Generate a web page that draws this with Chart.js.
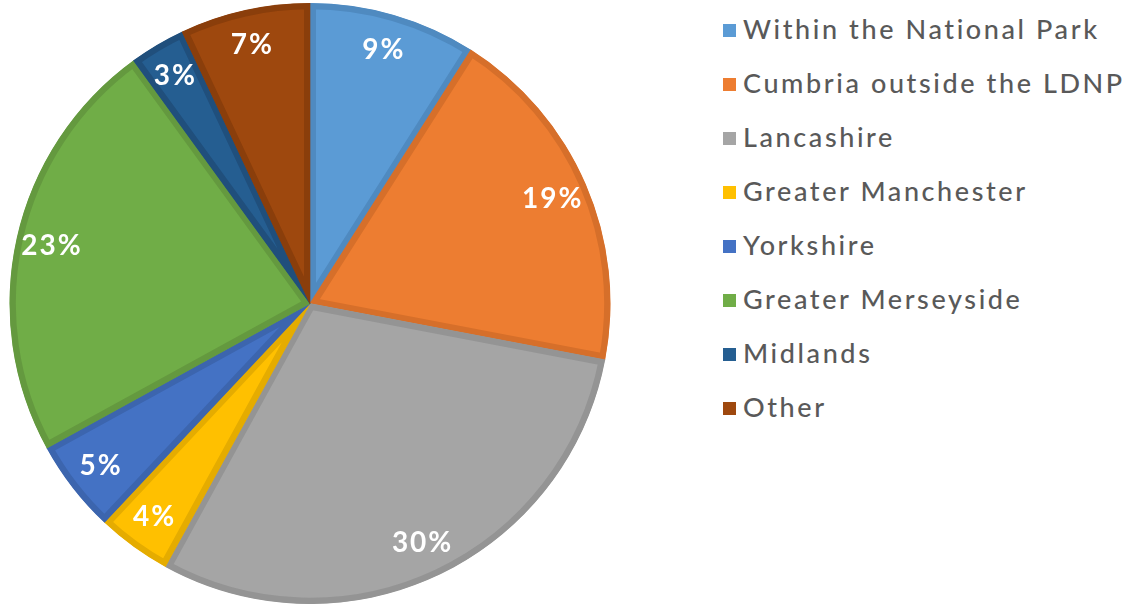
<!DOCTYPE html>
<html>
<head>
<meta charset="utf-8">
<script src="https://cdn.jsdelivr.net/npm/chart.js@4/dist/chart.umd.min.js"></script>
<style>
  body { margin: 0; background: #fff; width: 1137px; height: 607px; overflow: hidden; position: relative; font-family: Lato, sans-serif; }
  #wrap { position: absolute; left: 0; top: 0; width: 620px; height: 607px; }
  #legend { position: absolute; left: 723px; top: 1px; }
  .item { height: 54px; display: flex; align-items: center; color: #595959; font-size: 27px; font-weight: 500; letter-spacing: 2.6px; white-space: nowrap; }
  .box { width: 13px; height: 13px; margin-right: 7px; margin-top: 4px; }
</style>
</head>
<body>
<div id="wrap"><canvas id="myChart"></canvas></div>
<div id="legend"></div>
<script>
const labels = ['Within the National Park', 'Cumbria outside the LDNP', 'Lancashire', 'Greater Manchester', 'Yorkshire', 'Greater Merseyside', 'Midlands', 'Other']
const values = [9, 19, 30, 4, 5, 23, 3, 7]
const colours = ['#5B9BD5', '#ED7D31', '#A5A5A5', '#FFC000', '#4472C4', '#70AD47', '#255E91', '#9E480E']
const borders = ['#4F8AC0', '#D66F2A', '#949494', '#E5AC00', '#3C65AE', '#64993F', '#204F7C', '#8A3E0B']

var ctx = document.getElementById('myChart')

// draw the percentage inside each slice
const sliceLabels = {
    id: 'sliceLabels',
    afterDatasetsDraw(chart) {
        const c = chart.ctx
        const meta = chart.getDatasetMeta(0)
        c.save()
        c.fillStyle = '#fff'
        c.font = 'bold 28px Lato'
        c.letterSpacing = '2px'
        c.textAlign = 'center'
        c.textBaseline = 'middle'
        meta.data.forEach(function (arc, i) {
            const mid = (arc.startAngle + arc.endAngle) / 2
            const r = arc.outerRadius * 0.88
            c.fillText(values[i] + '%', arc.x + Math.cos(mid) * r, arc.y + Math.sin(mid) * r)
        })
        c.restore()
    }
}

new Chart(ctx, {
    type: 'pie',
    data: {
        labels: labels,
        datasets: [{
            data: values,
            backgroundColor: colours,
            borderColor: borders,
            borderWidth: 6,
            borderAlign: 'inner'
        }]
    },
    options: {
        responsive: true,
        maintainAspectRatio: false,
        animation: false,
        layout: { padding: 3 },
        plugins: {
            legend: { display: false },
            tooltip: { enabled: false }
        }
    },
    plugins: [sliceLabels]
})

var legend = document.getElementById('legend')
labels.forEach(function (name, i) {
    var row = document.createElement('div')
    row.className = 'item'
    row.innerHTML = '<span class="box" style="background:' + colours[i] + '"></span>' + name
    legend.appendChild(row)
})
</script>
</body>
</html>
